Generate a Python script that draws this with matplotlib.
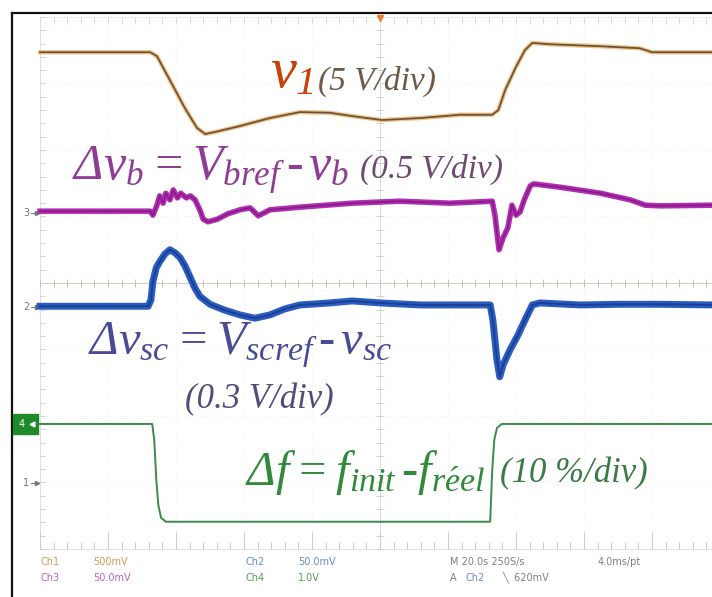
import numpy as np
import matplotlib
matplotlib.use("Agg")
import matplotlib.pyplot as plt
from matplotlib.patches import Rectangle

plt.rcParams['mathtext.fontset'] = 'custom'
plt.rcParams['mathtext.it'] = 'Liberation Serif:italic'
plt.rcParams['mathtext.rm'] = 'Liberation Serif:italic'
plt.rcParams['mathtext.cal'] = 'Liberation Serif:italic'

# Ch1 : v1 (5 V/div)
t_v1 = [0, 1.62, 1.72, 1.91, 2.13, 2.31, 2.43, 2.57, 2.94, 3.38, 3.82, 4.26, 4.59,
        5.03, 5.59, 6.18, 6.65, 6.74, 6.84, 6.99, 7.13, 7.24, 7.5, 8.24, 8.82, 9.0, 9.9]
y_v1 = [3.47, 3.47, 3.41, 3.05, 2.63, 2.33, 2.24, 2.27, 2.36, 2.48, 2.57, 2.56, 2.51,
        2.45, 2.48, 2.53, 2.53, 2.60, 2.90, 3.23, 3.50, 3.61, 3.59, 3.56, 3.53, 3.47, 3.47]

# Ch3 : delta v_b (0.5 V/div)
t_vb = [0, 1.62, 1.66, 1.72, 1.76, 1.81, 1.85, 1.91, 1.96, 2.02, 2.07, 2.15, 2.21,
        2.28, 2.35, 2.40, 2.47, 2.61, 2.76, 2.94, 3.09, 3.15, 3.21, 3.38, 3.82, 4.59,
        5.29, 6.03, 6.65, 6.69, 6.75, 6.81, 6.88, 6.94, 7.0, 7.06, 7.12, 7.21, 7.26,
        7.65, 8.24, 8.68, 8.90, 9.12, 9.9]
y_vb = [1.08, 1.08, 1.02, 1.17, 1.31, 1.20, 1.35, 1.25, 1.40, 1.28, 1.35, 1.28, 1.31,
        1.25, 1.10, 0.96, 0.92, 0.96, 1.04, 1.10, 1.13, 1.07, 1.01, 1.10, 1.14, 1.20,
        1.23, 1.20, 1.23, 1.02, 0.50, 0.68, 0.83, 1.17, 1.02, 1.07, 1.25, 1.46, 1.49,
        1.44, 1.35, 1.25, 1.17, 1.16, 1.17]

# Ch2 : delta v_sc (0.3 V/div)
t_vsc = [0, 1.59, 1.63, 1.66, 1.71, 1.76, 1.84, 1.91, 1.99, 2.06, 2.13, 2.21, 2.28,
         2.35, 2.50, 2.72, 2.94, 3.16, 3.38, 3.60, 3.82, 4.26, 4.59, 5.0, 5.59, 6.18,
         6.62, 6.66, 6.72, 6.76, 6.81, 6.91, 7.03, 7.13, 7.24, 7.35, 7.94, 8.53, 9.12, 9.9]
y_vsc = [-0.35, -0.35, -0.26, 0.02, 0.23, 0.32, 0.44, 0.50, 0.45, 0.38, 0.26, 0.08,
         -0.08, -0.20, -0.32, -0.41, -0.48, -0.53, -0.48, -0.39, -0.33, -0.30, -0.27,
         -0.30, -0.33, -0.33, -0.33, -0.56, -1.16, -1.41, -1.23, -1.01, -0.78, -0.56,
         -0.33, -0.30, -0.33, -0.32, -0.32, -0.33]

# Ch4 : delta f (10 %/div)
t_df = [0, 1.65, 1.68, 1.71, 1.74, 1.78, 1.85, 6.62, 6.65, 6.68, 6.72, 6.79, 9.9]
y_df = [-2.12, -2.12, -2.36, -2.96, -3.34, -3.53, -3.59, -3.59, -2.81, -2.36, -2.18,
        -2.12, -2.12]

# reperes de masse a gauche
gnd_labels = ['3', '2', '1']
gnd_levels = [1.05, -0.36, -3.01]
ch4_level = -2.12

fig = plt.figure(figsize=(7.12, 5.97), dpi=100)
ax = fig.add_axes([12 / 712, 0, 700 / 712, 584 / 597])
ax.set_xlim(-0.412, 9.882)
ax.set_ylim(-4.722, 4.06)
for s in ['right', 'bottom']:
    ax.spines[s].set_visible(False)
for s in ['left', 'top']:
    ax.spines[s].set_linewidth(1.6)
    ax.spines[s].set_color('#111111')
ax.set_xticks([])
ax.set_yticks([])

# graticule (tres pale)
grid_c = '#ebe8e2'
for gx in range(1, 11):
    ax.plot([gx, gx], [-4, 4], color=grid_c, lw=0.6, ls=(0, (1, 3)), zorder=1)
for gy in range(-3, 4):
    ax.plot([0, 10], [gy, gy], color=grid_c, lw=0.6, ls=(0, (1, 3)), zorder=1)
ax.plot([5, 5], [-4, 4], color='#dcdad6', lw=0.7, zorder=1)
ax.plot([0, 10], [0, 0], color='#d2cdc2', lw=0.8, zorder=1)
ax.plot([0, 0], [-4, 4], color='#e0deda', lw=0.7, zorder=1)
ax.plot([0, 10], [4, 4], color='#e8e6e2', lw=0.6, zorder=1)
ax.plot([0, 10], [-4, -4], color='#dcdad6', lw=0.6, zorder=1)
minor = np.arange(0, 10.01, 0.2)
ax.vlines(minor, -0.06, 0.06, color='#c4c0b8', lw=0.7, zorder=1)
ax.vlines(minor, 3.9, 4.0, color='#dcdad4', lw=0.7, zorder=1)
ax.vlines(minor, -4.0, -3.9, color='#ccc9c4', lw=0.7, zorder=1)
ax.vlines(np.arange(0, 10.01, 1), -4.0, -3.75, color='#d0cec8', lw=0.8, zorder=1)
minor_y = np.arange(-4, 4.01, 0.2)
ax.hlines(minor_y, 4.94, 5.06, color='#d4d2cc', lw=0.7, zorder=1)
ax.hlines(minor_y, 0, 0.08, color='#d4d2cc', lw=0.7, zorder=1)

# traces
ax.plot(t_v1, y_v1, color='#f2c58e', lw=3.2, solid_joinstyle='round', zorder=3)
ax.plot(t_v1, y_v1, color='#6e5436', lw=1.3, solid_joinstyle='round', zorder=4)
ax.plot(t_vb, y_vb, color='#b02eb0', lw=4.0, solid_joinstyle='round', zorder=4)
ax.plot(t_vb, y_vb, color='#8a1a8a', lw=1.2, solid_joinstyle='round', zorder=4)
ax.plot(t_vsc, y_vsc, color='#2a5cc0', lw=5.0, solid_joinstyle='round', zorder=4)
ax.plot(t_vsc, y_vsc, color='#1a3f96', lw=1.4, solid_joinstyle='round', zorder=4)
ax.plot(t_df, y_df, color='#3d8a4a', lw=1.4, solid_joinstyle='round', zorder=4)

# reperes de voies
for lab, lev in zip(gnd_labels, gnd_levels):
    ax.text(-0.2, lev, lab, fontsize=7, color='#777777', ha='center', va='center')
    ax.plot([-0.13, -0.02], [lev, lev], color='#777777', lw=0.8)
    ax.plot(-0.04, lev, marker='>', ms=3, color='#777777')
ax.add_patch(Rectangle((-0.40, ch4_level - 0.15), 0.37, 0.30, color='#1e8a2a',
                       zorder=5, clip_on=False))
ax.text(-0.27, ch4_level, '4', fontsize=7, color='white', ha='center', va='center',
        zorder=6)
ax.plot(-0.12, ch4_level, marker='<', ms=3.5, color='white', zorder=6)
ax.plot(5, 3.98, marker='v', ms=5, color='#f07a2a', zorder=5)

# annotations
serif = 'Liberation Serif'
ax.text(3.38, 2.95, r'$v_1$', fontsize=42, color='#c8410b', zorder=6)
ax.text(4.09, 2.9, '(5 V/div)', fontsize=24, family=serif, style='italic',
        color='#6e5a4a', zorder=6)
ax.text(0.47, 1.55, r'$\Delta v_b=V_{bref}\,\text{-}\,v_b$', fontsize=36,
        color='#8e3c94', zorder=6)
ax.text(4.7, 1.58, '(0.5 V/div)', fontsize=24, family=serif, style='italic',
        color='#6e4a70', zorder=6)
ax.text(0.71, -1.07, r'$\Delta v_{sc}=V_{scref}\,\text{-}\,v_{sc}$', fontsize=35,
        color='#4a4a96', zorder=6)
ax.text(2.13, -1.88, '(0.3 V/div)', fontsize=25, family=serif, style='italic',
        color='#4e4e7a', zorder=6)
ax.text(3.01, -3.04, r'$\Delta f=f_{init}\,\text{-}f_{r\acute{e}el}$', fontsize=35,
        color='#2f8a3a', zorder=6)
ax.text(6.76, -3.0, '(10 %/div)', fontsize=25, family=serif, style='italic',
        color='#3a7a45', zorder=6)

# texte d'etat de l'oscilloscope
st = dict(fontsize=7, zorder=6, va='center')
ax.text(0.0, -4.2, 'Ch1', color='#d49a50', **st)
ax.text(0.78, -4.2, '500mV', color='#d49a50', **st)
ax.text(0.0, -4.43, 'Ch3', color='#c060c0', **st)
ax.text(0.78, -4.43, '50.0mV', color='#c060c0', **st)
ax.text(3.02, -4.2, 'Ch2', color='#6a8ad0', **st)
ax.text(3.79, -4.2, '50.0mV', color='#6a8ad0', **st)
ax.text(3.02, -4.43, 'Ch4', color='#5a9a5a', **st)
ax.text(3.79, -4.43, '1.0V', color='#5a9a5a', **st)
ax.text(6.03, -4.2, 'M 20.0s 250S/s', color='#808080', **st)
ax.text(8.2, -4.2, '4.0ms/pt', color='#808080', **st)
ax.text(6.03, -4.43, 'A', color='#808080', **st)
ax.text(6.25, -4.43, 'Ch2', color='#6a8ad0', **st)
ax.text(6.8, -4.43, '\u2572  620mV', color='#808080', **st)

fig.savefig('out.png', dpi=100)
